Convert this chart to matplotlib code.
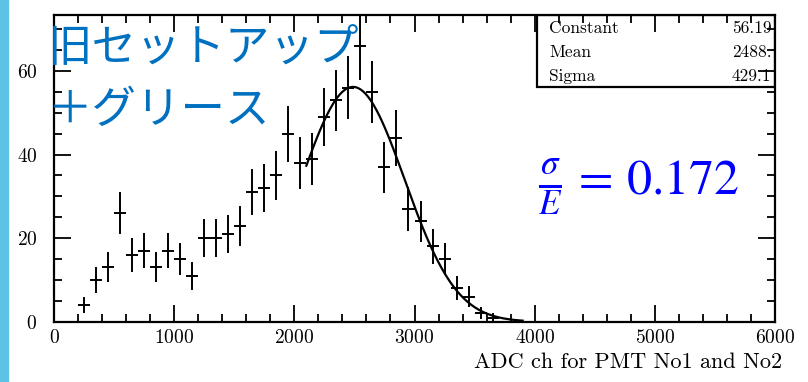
import numpy as np
import matplotlib.pyplot as plt
from matplotlib.patches import Rectangle
from matplotlib.ticker import MultipleLocator

# histogram contents (bin width 100)
bin_centers = [250, 350, 450, 550, 650, 750, 850, 950, 1050, 1150,
               1250, 1350, 1450, 1550, 1650, 1750, 1850, 1950, 2050, 2150,
               2250, 2350, 2450, 2550, 2650, 2750, 2850, 2950, 3050, 3150,
               3250, 3350, 3450, 3550, 3650]
counts = [4, 10, 13, 26, 16, 17, 13, 17, 15, 11,
          20, 20, 21, 23, 31, 32, 35, 45, 38, 39,
          49, 53, 56, 66, 55, 37, 44, 27, 24, 18,
          15, 8, 6, 2, 1]

# gaussian fit results
fit_const = 56.19
fit_mean = 2488.
fit_sigma = 429.1
fit_range = (2100, 3900)
stat_names = ["Constant", "Mean", "Sigma"]
stat_values = ["56.19", "2488.", "429.1"]

title_lines = ["旧セットアップ", "＋グリース"]
resolution = r"$\frac{\sigma}{E}\,=\,0.172$"

plt.rcParams['mathtext.fontset'] = 'stix'
plt.rcParams['axes.formatter.use_mathtext'] = True

fig = plt.figure(figsize=(8.08, 3.82), dpi=100)
fig.patches.append(Rectangle((0, 0), 8 / 808, 1, transform=fig.transFigure,
                             color='#5cc3e6', zorder=0))
ax = fig.add_axes([54 / 808, (382 - 321.7) / 382, 721 / 808, 306.7 / 382])

x = np.array(bin_centers)
y = np.array(counts)
ax.errorbar(x, y, xerr=50, yerr=np.sqrt(y), fmt='none', ecolor='black',
            elinewidth=1.4, capsize=0)

xf = np.linspace(fit_range[0], fit_range[1], 300)
yf = fit_const * np.exp(-0.5 * ((xf - fit_mean) / fit_sigma) ** 2)
ax.plot(xf, yf, color='black', lw=1.6)

ax.set_xlim(0, 6000)
ax.set_ylim(0, 73.4)
ax.xaxis.set_major_locator(MultipleLocator(1000))
ax.xaxis.set_minor_locator(MultipleLocator(200))
ax.yaxis.set_major_locator(MultipleLocator(20))
ax.yaxis.set_minor_locator(MultipleLocator(5))
ax.tick_params(which='both', direction='in', top=True, right=True,
               width=1.3, labelsize=14, colors='black')
ax.tick_params(which='major', length=12)
ax.tick_params(which='minor', length=6)
for lab in ax.get_xticklabels() + ax.get_yticklabels():
    lab.set_family('cmr10')
ax.tick_params(axis='x', pad=5)
ax.tick_params(axis='y', pad=12)
for s in ax.spines.values():
    s.set_linewidth(1.6)

fig.text(782 / 808, 1 - 362 / 382, "ADC ch for PMT No1 and No2",
         family='cmr10', fontsize=16, ha='right', va='center')

# stats box
ax.add_patch(Rectangle((0.67, 0.765), 0.33, 0.235, transform=ax.transAxes,
                       fill=False, lw=1.6, ec='black', zorder=5))
for i, (n, v) in enumerate(zip(stat_names, stat_values)):
    yy = 0.955 - i * 0.078
    ax.text(0.687, yy, n, transform=ax.transAxes, family='cmr10',
            fontsize=12.5, va='center', ha='left')
    ax.text(0.995, yy, v, transform=ax.transAxes, family='cmr10',
            fontsize=12.5, va='center', ha='right')

for line, base in zip(title_lines, [61, 123]):
    fig.text(48 / 808, 1 - base / 382, line, color='#0070c0', fontsize=32,
             family=['Noto Sans CJK JP', 'DejaVu Sans'], va='baseline',
             ha='left')

fig.text(538 / 808, 1 - 188 / 382, resolution, color='#0000ff', fontsize=36,
         va='center', ha='left')

fig.savefig("out.png", dpi=100)
